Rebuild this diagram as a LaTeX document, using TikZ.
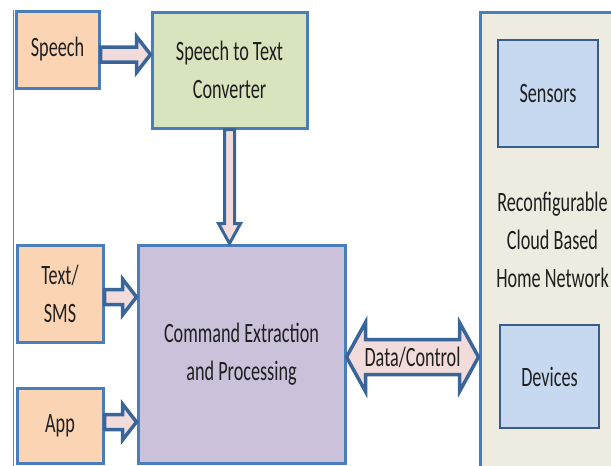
\documentclass[tikz,border=0pt]{standalone}
\usepackage{fontspec}
\setmainfont{Carlito}[FakeStretch=0.65]
\usepackage{tikz}
\usetikzlibrary{calc, positioning}
\definecolor{colorInput}{HTML}{FBD4B4}
\definecolor{colorConverter}{HTML}{D7E4BD}
\definecolor{colorCommand}{HTML}{CCC1DA}
\definecolor{colorNetwork}{HTML}{EEECE1}
\definecolor{colorUnit}{HTML}{C6D9F1}
\definecolor{colorBorder}{HTML}{4A7EBB}
\definecolor{colorUnitBorder}{HTML}{385D8A}
\definecolor{colorArrow}{HTML}{F2DCDB}
\definecolor{colorArrowBorder}{HTML}{3A6599}
\definecolor{colorText}{HTML}{1F1F1F}
\tikzset{
  box/.style={draw=colorBorder, line width=1.5pt, inner sep=0pt, align=center,
    text=colorText, font=\fontsize{14}{19}\selectfont},
  unit/.style={box, draw=colorUnitBorder, line width=1.25pt, fill=colorUnit},
  harrow/.style={draw=colorArrowBorder, fill=colorArrow, line width=1.75pt,
    to path={let \p1=(\tikztostart), \p2=(\tikztotarget) in
      (\x1,\y1+3.75pt) -- (\x2-7pt,\y1+3.75pt) -- (\x2-7pt,\y1+9pt) -- (\x2,\y1)
      -- (\x2-7pt,\y1-9pt) -- (\x2-7pt,\y1-3.75pt) -- (\x1,\y1-3.75pt) -- cycle}},
  varrow/.style={draw=colorArrowBorder, fill=colorArrow, line width=1.5pt,
    to path={let \p1=(\tikztostart), \p2=(\tikztotarget) in
      (\x1-2.5pt,\y1) -- (\x1-2.5pt,\y2+10pt) -- (\x1-5.5pt,\y2+10pt) -- (\x1,\y2)
      -- (\x1+5.5pt,\y2+10pt) -- (\x1+2.5pt,\y2+10pt) -- (\x1+2.5pt,\y1) -- cycle}},
  darrow/.style={draw=colorArrowBorder, fill=colorArrow, line width=1.75pt,
    to path={let \p1=(\tikztostart), \p2=(\tikztotarget) in
      (\x1,\y1) -- (\x1+9.5pt,\y1+17.25pt) -- (\x1+9.5pt,\y1+8.75pt) -- (\x2-9.5pt,\y1+8.75pt)
      -- (\x2-9.5pt,\y1+17.25pt) -- (\x2,\y1) -- (\x2-9.5pt,\y1-17.25pt) -- (\x2-9.5pt,\y1-8.75pt)
      -- (\x1+9.5pt,\y1-8.75pt) -- (\x1+9.5pt,\y1-17.25pt) -- cycle}}
}

\begin{document}
\begin{tikzpicture}[x=0.5pt, y=-0.5pt]
\useasboundingbox (0,0) rectangle (611,466);
\clip (0,0) rectangle (611,466);
\draw[gray, line width=0.5pt] (13,10) -- (13,466);
% inputs
\node[box, fill=colorInput, minimum width=41.5pt, minimum height=38.5pt] (spch) at (57.5,49.5) {Speech};
\node[box, fill=colorInput, minimum width=43pt, minimum height=48.5pt] (txt) at (60,293.5) {Text/\\SMS};
\node[box, fill=colorInput, minimum width=43pt, minimum height=37.5pt] (app) at (60,425.5) {App};
% processing
\node[box, fill=colorConverter, minimum width=77.5pt, minimum height=58pt] (stt) at (229.5,70) {Speech to Text\\Converter};
\node[box, fill=colorCommand, minimum width=103.5pt, minimum height=109pt] (cmd) at (241.5,354) {Command Extraction\\and Processing};
% home network
\node[box, fill=colorNetwork, minimum width=72.5pt, minimum height=228pt] (net) at (552.5,240) {Reconfigurable\\Cloud Based\\Home Network};
\node[unit, minimum width=50pt, minimum height=53.5pt] (sens) at (548,93.5) {Sensors};
\node[unit, minimum width=49.5pt, minimum height=51.5pt] (dev) at (549.5,376.5) {Devices};
% arrows
\draw[harrow] ([yshift=-2.5pt]spch.east) to (stt.west);
\draw[harrow] ([yshift=-1.75pt]txt.east) to (txt.east -| cmd.west);
\draw[harrow] ([yshift=1.75pt]app.east) to (app.east -| cmd.west);
\draw[varrow] (stt.south) to (stt.south |- cmd.north);
\coordinate (dc) at ([yshift=-1.5pt]cmd.east);
\draw[darrow] (dc) to (dc -| net.west);
\node[text=colorText, font=\fontsize{14}{19}\selectfont] (dctext) at ($(dc)!0.5!(dc -| net.west)$) {Data/Control};
\end{tikzpicture}
\end{document}
